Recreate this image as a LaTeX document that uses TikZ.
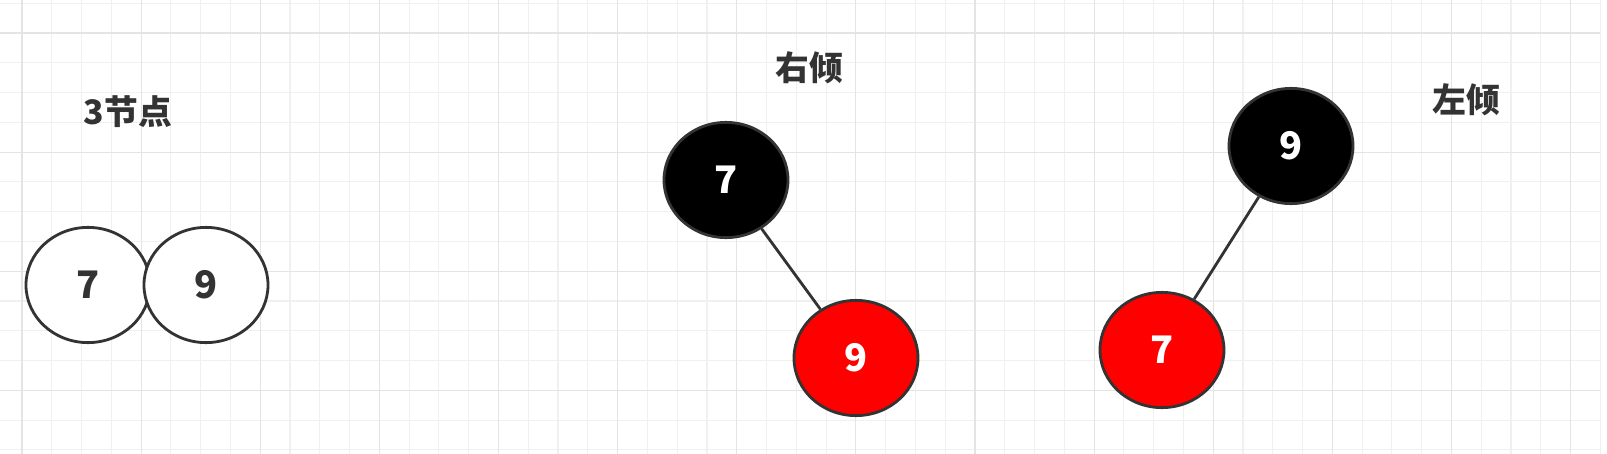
\documentclass[tikz,border=0pt]{standalone}
\usepackage{fontspec}
\setmainfont{Noto Sans CJK SC}
\usetikzlibrary{shapes.geometric}
\definecolor{gridminor}{HTML}{F0F0F0}
\definecolor{gridmajor}{HTML}{E4E4E4}
\definecolor{nodeborder}{HTML}{333333}
\definecolor{rbred}{HTML}{FF0000}

\begin{document}
\begin{tikzpicture}[x=0.025cm,y=-0.025cm,
    rbnode/.style={ellipse,draw=nodeborder,line width=2pt,inner sep=0,
        minimum width=3.1cm,minimum height=2.88cm,font=\fontsize{27pt}{27pt}\selectfont\bfseries},
    whitenode/.style={rbnode,fill=white,text=nodeborder},
    blacknode/.style={rbnode,fill=black,text=white},
    rednode/.style={rbnode,fill=rbred,text=white},
    caption/.style={text=nodeborder,font=\fontsize{24pt}{24pt}\selectfont\bfseries},
    treeedge/.style={draw=nodeborder,line width=2pt}]
    \pgfmathsetmacro{\gridstep}{29.78}
    \pgfmathsetmacro{\gridright}{1600}
    \pgfmathsetmacro{\gridbottom}{454}
    \useasboundingbox (0,0) rectangle (1607,454);
    % background grid
    \foreach \i in {0,...,53} {
        \pgfmathsetmacro{\gx}{22+\i*\gridstep}
        \draw[gridminor,line width=0.8pt] (\gx,0) -- (\gx,\gridbottom);
    }
    \foreach \i in {0,...,15} {
        \pgfmathsetmacro{\gy}{3.2+\i*\gridstep}
        \draw[gridminor,line width=0.8pt] (0,\gy) -- (\gridright,\gy);
    }
    \foreach \i in {0,...,13} {
        \pgfmathsetmacro{\gx}{22+4*\i*\gridstep}
        \draw[gridmajor,line width=0.8pt] (\gx,0) -- (\gx,\gridbottom);
    }
    \foreach \i in {0,...,3} {
        \pgfmathsetmacro{\gy}{3.2+(4*\i+1)*\gridstep}
        \draw[gridmajor,line width=0.8pt] (0,\gy) -- (\gridright,\gy);
    }
    % 3-node
    \node[caption] (threecap) at (128,112) {3节点};
    \node[whitenode] (threeleft) at (88,285) {7};
    \node[whitenode] (threeright) at (206,285) {9};
    % right leaning
    \node[caption] (rightcap) at (809,68) {右倾};
    \node[blacknode] (rightroot) at (726,180) {7};
    \node[rednode] (rightchild) at (856,358) {9};
    \draw[treeedge] (rightroot) -- (rightchild);
    % left leaning
    \node[caption] (leftcap) at (1466,100) {左倾};
    \node[blacknode] (leftroot) at (1291,146) {9};
    \node[rednode] (leftchild) at (1162,350) {7};
    \draw[treeedge] (leftroot) -- (leftchild);
\end{tikzpicture}
\end{document}
